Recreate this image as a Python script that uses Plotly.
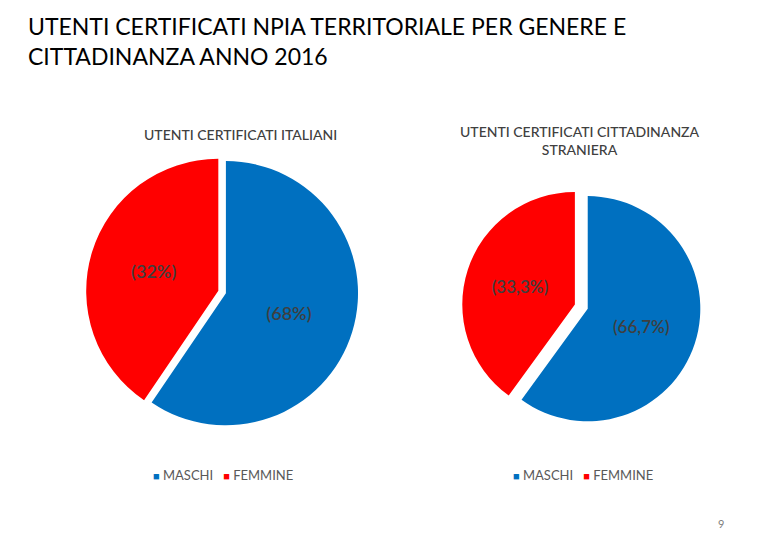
import plotly.graph_objects as go

genders = ["MASCHI", "FEMMINE"]
colors = ["#0070C0", "#FF0000"]

# slice sizes as drawn in the picture
italiani_values = [59.5, 40.5]
stranieri_values = [60, 40]

# percentage labels as printed on the slices
italiani_text = ["(68%)", "(32%)"]
stranieri_text = ["(66,7%)", "(33,3%)"]

font = "Lato"

fig = go.Figure()

fig.add_trace(go.Pie(
    labels=genders, values=italiani_values, text=italiani_text,
    textinfo="text", textposition="inside", insidetextorientation="horizontal",
    textfont=dict(size=18, color="#3f3f3f", family=font, weight=600),
    marker=dict(colors=colors, line=dict(color="white", width=0)),
    sort=False, direction="clockwise", rotation=0, pull=[0.03, 0.03],
    domain=dict(x=[0.100, 0.449], y=[0.222, 0.726]),
    showlegend=False, hoverinfo="label+value",
))

fig.add_trace(go.Pie(
    labels=genders, values=stranieri_values, text=stranieri_text,
    textinfo="text", textposition="inside", insidetextorientation="horizontal",
    textfont=dict(size=17, color="#3f3f3f", family=font, weight=600),
    marker=dict(colors=colors, line=dict(color="white", width=0)),
    sort=False, direction="clockwise", rotation=0, pull=[0.06, 0.06],
    domain=dict(x=[0.582, 0.888], y=[0.226, 0.668]),
    showlegend=False, hoverinfo="label+value",
))


def legend_text():
    parts = []
    for g, c in zip(genders, colors):
        parts.append(f"<span style='color:{c};font-size:11px'>■</span> {g}")
    return "&nbsp;&nbsp;&nbsp;".join(parts)


fig.update_layout(
    width=780, height=540,
    margin=dict(l=0, r=0, t=0, b=0),
    paper_bgcolor="white",
    font=dict(family=font),
    showlegend=False,
    annotations=[
        dict(text="UTENTI CERTIFICATI NPIA TERRITORIALE PER GENERE E<br>CITTADINANZA ANNO 2016",
             x=18 / 780, y=1 - 2 / 540, xref="paper", yref="paper", xanchor="left", yanchor="top",
             align="left", showarrow=False, font=dict(size=23, color="black", family=font)),
        dict(text="UTENTI CERTIFICATI ITALIANI",
             x=232 / 780, y=1 - 127 / 540, xref="paper", yref="paper", xanchor="center", yanchor="middle",
             showarrow=False, font=dict(size=14, color="#404040", family=font, weight=500)),
        dict(text="UTENTI CERTIFICATI CITTADINANZA<br>STRANIERA",
             x=572 / 780, y=1 - 132 / 540, xref="paper", yref="paper", xanchor="center", yanchor="middle",
             showarrow=False, font=dict(size=14, color="#404040", family=font, weight=500)),
        dict(text=legend_text(),
             x=143 / 780, y=1 - 467 / 540, xref="paper", yref="paper", xanchor="left", yanchor="middle",
             showarrow=False, font=dict(size=13, color="#595959", family=font)),
        dict(text=legend_text(),
             x=503 / 780, y=1 - 467 / 540, xref="paper", yref="paper", xanchor="left", yanchor="middle",
             showarrow=False, font=dict(size=13, color="#595959", family=font)),
        dict(text="9",
             x=713 / 780, y=1 - 515 / 540, xref="paper", yref="paper", xanchor="center", yanchor="middle",
             showarrow=False, font=dict(size=11, color="#808080", family=font)),
    ],
)

fig.write_html("out.html")
